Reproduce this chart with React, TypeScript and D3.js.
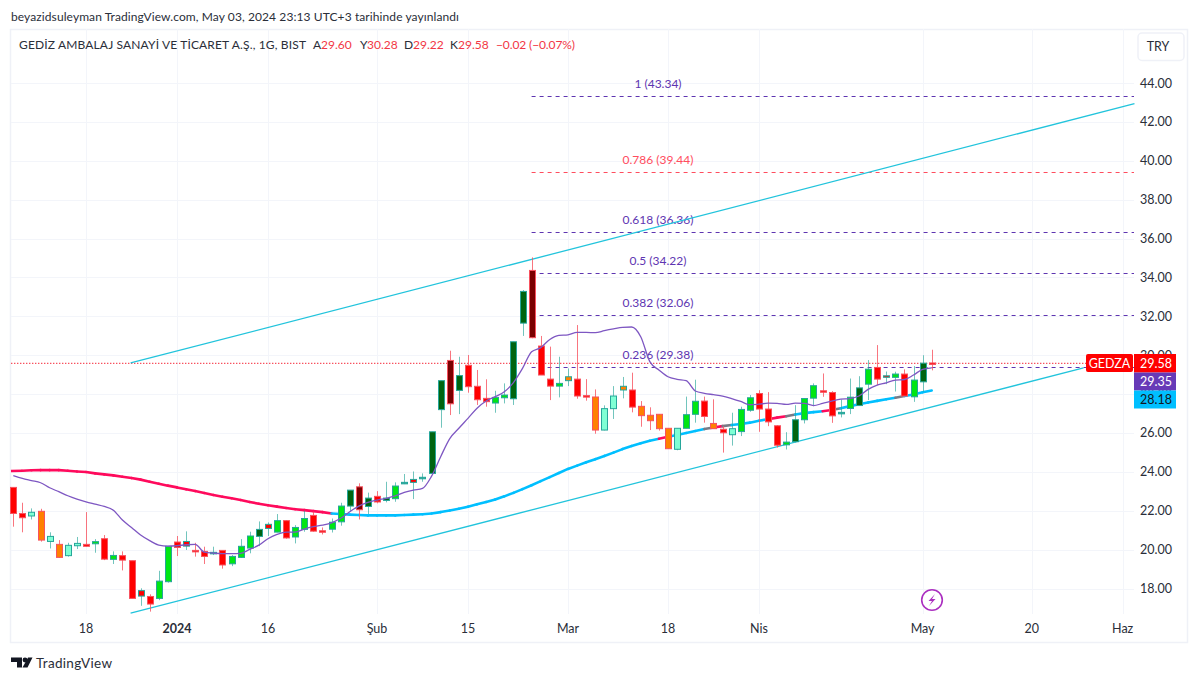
import React from "react";
import * as d3 from "d3";

const opens = [23.2,21.86,21.73,21.97,20.42,20.27,19.69,20.2,20.27,20.3,20.56,19.5,19.69,19.43,17.61,17.59,17.49,18.35,20.39,20.18,19.96,19.91,19.81,19.96,19.27,19.6,20.08,20.68,21.09,20.9,21.49,20.65,21.04,21.76,20.97,21.05,21.43,22.24,23.23,22.22,22.74,22.53,22.62,23.41,23.46,23.65,23.92,27.2,29.73,28.19,29.48,28.4,27.78,27.54,27.81,27.76,31.65,34.36,30.47,28.77,28.41,28.69,28.77,27.92,27.85,26.15,27.25,28.21,28.21,27.37,26.91,26.96,26.24,25.16,26.24,26.96,27.64,26.49,26.19,25.91,26.07,27.17,28.03,27.23,26.37,25.39,25.55,26.68,27.79,28.17,28.08,27.0,27.26,27.41,28.51,29.37,28.87,28.86,29.03,27.86,28.63,29.6];
const highs = [23.2,22.41,22.12,22.1,20.89,20.49,20.35,20.65,21.93,20.54,20.75,19.91,19.91,19.43,18.01,17.7,18.91,20.17,20.7,20.94,20.35,20.15,20.15,19.96,19.72,20.54,20.92,21.45,21.4,21.83,21.52,21.26,22.0,21.95,21.14,21.6,22.41,23.06,23.41,22.93,23.01,23.49,23.46,23.89,24.02,23.92,26.06,28.69,30.23,29.92,30.01,29.24,28.76,28.17,28.55,30.69,33.35,35.03,30.99,30.44,29.92,29.32,31.55,28.77,28.24,27.42,28.41,28.88,29.1,27.64,27.32,26.96,26.24,26.24,27.87,28.74,27.87,27.73,26.36,27.04,27.35,27.95,28.2,28.1,26.4,26.04,27.43,27.77,28.55,29.06,28.15,27.72,28.8,28.92,29.75,30.52,29.16,29.15,29.27,29.44,30.0,30.28];
const lows = [21.18,20.89,21.55,20.41,20.06,19.57,19.64,20.03,20.15,19.84,19.46,19.26,18.93,17.49,17.11,16.81,17.4,18.3,19.67,19.98,19.64,19.26,19.72,19.02,19.15,19.57,19.81,20.18,20.7,20.89,20.56,20.32,20.92,20.92,20.78,20.88,21.23,21.95,21.55,21.83,22.38,22.43,22.46,23.37,22.6,23.49,23.92,26.27,26.92,26.97,28.07,27.44,27.35,27.04,27.52,27.44,30.99,30.87,28.98,27.69,27.83,28.41,27.76,27.66,25.96,26.13,26.72,27.78,27.06,26.32,26.15,26.12,25.19,25.11,26.24,26.53,26.53,26.22,24.99,25.35,25.84,27.09,26.06,26.35,25.25,25.15,25.51,26.49,27.38,27.86,26.52,26.8,26.97,27.41,27.69,28.46,28.51,28.13,27.9,27.6,28.12,29.22];
const closes = [21.86,21.64,21.92,20.49,20.68,19.6,20.22,20.32,20.17,20.41,19.51,19.7,19.46,17.49,17.89,17.2,18.38,20.17,20.11,20.42,19.91,19.65,19.86,19.21,19.65,20.17,20.7,21.04,21.3,21.49,20.6,21.14,21.6,20.95,20.93,21.41,22.24,23.06,22.05,22.65,22.45,22.65,23.27,23.46,23.61,23.72,26.06,28.69,27.5,28.95,28.38,27.71,27.61,27.83,27.95,30.69,33.28,30.9,28.98,28.41,28.55,28.89,27.9,27.85,26.15,27.25,27.9,28.4,27.33,26.89,26.63,26.22,25.19,26.24,26.94,27.63,26.85,26.22,26.01,26.22,27.21,27.81,27.23,26.57,25.37,25.53,26.68,27.77,28.43,28.12,26.88,27.06,27.84,28.32,29.28,28.77,28.94,29.03,27.9,28.72,29.59,29.58];
// body paint per candle: r red, g lime, d dark green, o orange, a aquamarine, m maroon, q teal
const paints = ("rraoaoaarg" + "rgrrrrggrr" + "rrqrgggdrg" + "rggrrggdmd" + "rdgqrqddmd" + "rrrggddmrr" + "gorroaaoro" + "oooaggrora" + "ggrrrgdggr" + "rqgdgrrgrg" + "dr").split("");
const smaLine = [23.8,23.66,23.55,23.44,23.18,22.98,22.77,22.6,22.46,22.34,22.22,22.03,21.52,21.14,20.75,20.46,20.23,20.18,20.2,20.25,20.27,19.87,19.82,19.79,19.79,19.81,20.01,20.23,20.56,20.78,20.9,20.9,21.06,21.18,21.26,21.38,21.61,21.95,22.24,22.43,22.55,22.64,22.76,22.94,23.06,23.15,23.78,24.78,25.71,26.24,26.75,27.27,27.64,27.87,28.12,28.59,29.32,30.18,30.39,30.81,31.02,31.05,31.17,31.17,31.16,31.26,31.35,31.43,31.45,30.95,29.67,29.24,28.89,28.76,28.69,28.16,28.04,27.97,27.9,27.77,27.62,27.45,27.48,27.53,27.52,27.47,27.53,27.52,27.41,27.52,27.64,27.74,27.77,27.9,28.24,28.46,28.58,28.72,28.75,28.98,29.27,29.35];
const emaLine = [24.04,24.06,24.08,24.09,24.09,24.09,24.06,24.02,23.99,23.92,23.87,23.82,23.75,23.68,23.6,23.49,23.39,23.29,23.2,23.1,23.01,22.91,22.81,22.72,22.64,22.55,22.45,22.36,22.28,22.21,22.14,22.08,22.03,21.98,21.93,21.86,21.83,21.8,21.78,21.76,21.76,21.76,21.76,21.78,21.8,21.82,21.86,21.93,22.01,22.1,22.21,22.33,22.45,22.58,22.74,22.92,23.11,23.31,23.52,23.73,23.94,24.15,24.32,24.49,24.65,24.82,24.99,25.17,25.33,25.47,25.6,25.7,25.8,25.9,26.0,26.1,26.2,26.28,26.35,26.41,26.46,26.53,26.63,26.71,26.79,26.86,26.95,27.02,27.07,27.12,27.18,27.27,27.38,27.48,27.57,27.65,27.73,27.81,27.9,27.98,28.09,28.18];
// thick line segment colour: p pink, b blue, y grey
const emaColors = ("ppppppppppppppppppppppppppppppppppp" + "bbbbbbbbbbbbbbbbbbbbbbbbbbbbbbbbbbbb" + "p" + "bbbb" + "ypy" + "bbbb" + "ppy" + "bbb" + "py" + "bbbbbb" + "y" + "bbb").split("");

const priceTicks = [44, 42, 40, 38, 36, 34, 32, 30, 28, 26, 24, 22, 20, 18];
const timeTicks = [
  { i: 8, label: "18" }, { i: 18, label: "2024", bold: true }, { i: 28, label: "16" },
  { i: 40, label: "Şub" }, { i: 50, label: "15" }, { i: 61, label: "Mar" },
  { i: 72, label: "18" }, { i: 82, label: "Nis" }, { i: 100, label: "May" },
  { i: 112, label: "20" }, { i: 122, label: "Haz" },
];
const fibLevels = [
  { label: "1 (43.34)", value: 43.34, color: "#5e35b1" },
  { label: "0.786 (39.44)", value: 39.44, color: "#ff4d5e" },
  { label: "0.618 (36.36)", value: 36.36, color: "#5e35b1" },
  { label: "0.5 (34.22)", value: 34.22, color: "#5e35b1" },
  { label: "0.382 (32.06)", value: 32.06, color: "#5e35b1" },
  { label: "0.236 (29.38)", value: 29.38, color: "#5e35b1" },
];
const upperTrend = [[12.9, 29.6], [123.3, 42.94]];
const lowerTrend = [[12.9, 16.73], [117.7, 29.35]];
const lastClose = 29.58;

const paintFill: Record<string, string> = { r: "#ff0000", g: "#00e613", d: "#006410", o: "#ff8000", a: "#7fffd4", m: "#7a0000", q: "#26a69a" };
const emaStroke: Record<string, string> = { p: "#ff0a5c", b: "#00bfff", y: "#787b86" };
const F = "Lato, 'Noto Sans', Arial, sans-serif";
const TXT = "#2a2e39";

export default function App() {
  const x = d3.scaleLinear().domain([0, 101]).range([13.3, 931.7]);
  const y = d3.scaleLinear().domain([44, 18]).range([83, 588.5]);
  const L = 11, R = 1134, T = 29, B = 614, FR = 1188, FB = 643;
  const purple = d3.line<number>().x((_, i) => x(i)).y(d => y(d)).curve(d3.curveMonotoneX)(smaLine) as string;
  return (
    <svg width={1200} height={681} style={{ position: "absolute", left: 0, top: 0, background: "#fff" }} fontFamily={F}>
      <text x={11} y={21} fontSize={12} fill={TXT} textLength={448} lengthAdjust="spacing">beyazidsuleyman TradingView.com, May 03, 2024 23:13 UTC+3 tarihinde yayınlandı</text>
      <rect x={10.5} y={29.5} width={FR - 11} height={FB - 30} fill="#fff" stroke="#eff1f7" strokeWidth={1.5} />
      {priceTicks.map(p => <line key={p} x1={L} x2={R} y1={Math.round(y(p)) + 0.5} y2={Math.round(y(p)) + 0.5} stroke="#f3f5fa" />)}
      {timeTicks.map(t => <line key={t.label + t.i} x1={Math.round(x(t.i)) + 0.5} x2={Math.round(x(t.i)) + 0.5} y1={T} y2={B} stroke="#f3f5fa" />)}

      <line x1={L} x2={1086} y1={y(lastClose)} y2={y(lastClose)} stroke="#f7525f" strokeWidth={1.4} strokeDasharray="1.4 1.6" />
      {fibLevels.map(f => (
        <g key={f.label}>
          <line x1={x(57)} x2={R} y1={Math.round(y(f.value)) + 0.5} y2={Math.round(y(f.value)) + 0.5} stroke={f.color} strokeDasharray="4 4" />
          <text x={658} y={y(f.value) - 8} textAnchor="middle" fontSize={12} fill={f.color}>{f.label}</text>
        </g>
      ))}
      {[upperTrend, lowerTrend].map((tr, k) => (
        <line key={k} x1={x(tr[0][0])} y1={y(tr[0][1])} x2={x(tr[1][0])} y2={y(tr[1][1])} stroke="#22c4dc" strokeWidth={1.3} />
      ))}

      {emaLine.slice(0, -1).map((v, i) => (
        <line key={i} x1={i === 0 ? L : x(i)} y1={y(v)} x2={x(i + 1)} y2={y(emaLine[i + 1])} stroke={emaStroke[emaColors[i]] || "#00bfff"} strokeWidth={2.6} strokeLinecap={i === 0 ? "butt" : "round"} />
      ))}

      {opens.map((o, i) => {
        const c = closes[i];
        const up = c >= o;
        const edge = up ? "#26a69a" : "#f7525f";
        const top = y(Math.max(o, c));
        const h = Math.max(1.5, Math.abs(y(o) - y(c)));
        return (
          <g key={i}>
            <line x1={Math.round(x(i)) + 0.5} x2={Math.round(x(i)) + 0.5} y1={y(highs[i])} y2={y(lows[i])} stroke={edge} strokeOpacity={up ? 0.65 : 0.8} />
            <rect x={Math.round(x(i)) - 2.5} y={top} width={6} height={h} fill={paintFill[paints[i]] || (up ? "#00e613" : "#ff0000")} stroke={edge} strokeWidth={1} />
          </g>
        );
      })}
      <path d={purple} fill="none" stroke="#7e57c2" strokeWidth={1.3} />

      {priceTicks.map(p => <text key={p} x={1172} y={y(p) + 4.5} textAnchor="end" fontSize={12.5} fill={TXT}>{p.toFixed(2)}</text>)}
      {timeTicks.map(t => <text key={t.label + t.i} x={x(t.i)} y={633} textAnchor="middle" fontSize={12.5} fontWeight={t.bold ? 700 : 400} fill={TXT}>{t.label}</text>)}

      <rect x={1086} y={354} width={47} height={18} rx={2} fill="#ff0000" />
      <text x={1109.5} y={367.5} textAnchor="middle" fontSize={12.5} fill="#fff">GEDZA</text>
      <rect x={1134} y={354} width={42} height={18.5} fill="#ff0000" />
      <text x={1172} y={367.5} textAnchor="end" fontSize={12.5} fill="#fff">29.58</text>
      <rect x={1134} y={372.5} width={42} height={18} fill="#673ab7" />
      <text x={1172} y={386} textAnchor="end" fontSize={12.5} fill="#fff">29.35</text>
      <rect x={1134} y={390.5} width={42} height={18} fill="#00bfff" />
      <text x={1172} y={404} textAnchor="end" fontSize={12.5} fill="#131722">28.18</text>

      <g fontSize={12}>
        <text x={19} y={49} fill={TXT} textLength={287} lengthAdjust="spacing">GEDİZ AMBALAJ SANAYİ VE TİCARET A.Ş., 1G, BIST</text>
        <text x={313} y={49} fill={TXT}>A</text><text x={321} y={49} fill="#f23645">29.60</text>
        <text x={360} y={49} fill={TXT}>Y</text><text x={367} y={49} fill="#f23645">30.28</text>
        <text x={404} y={49} fill={TXT}>D</text><text x={413} y={49} fill="#f23645">29.22</text>
        <text x={450} y={49} fill={TXT}>K</text><text x={458} y={49} fill="#f23645">29.58</text>
        <text x={496} y={49} fill="#f23645" textLength={79} lengthAdjust="spacing">−0.02 (−0.07%)</text>
      </g>
      <rect x={1138} y={33} width={46} height={27.5} rx={4} fill="#fff" stroke="#eff1f7" strokeWidth={1.5} />
      <text x={1158} y={50.5} textAnchor="middle" fontSize={12.5} fill={TXT}>TRY</text>

      <circle cx={932} cy={600} r={10.3} fill="#fff" stroke="#ab2fc0" strokeWidth={1.6} />
      <path d="M935 594 L928.5 601 L932 601 L929 606 L935.5 599 L932 599 Z" fill="#ab2fc0" />

      <g fill="#131722">
        <path d="M11 657.5h11v10h-5v-5.5h-6z" />
        <circle cx={25} cy={660} r={2.4} />
        <path d="M28 657.5h4.5l-5 10h-5z" />
      </g>
      <text x={36} y={668} fontSize={13.5} fill={TXT} textLength={76} lengthAdjust="spacing">TradingView</text>
    </svg>
  );
}
